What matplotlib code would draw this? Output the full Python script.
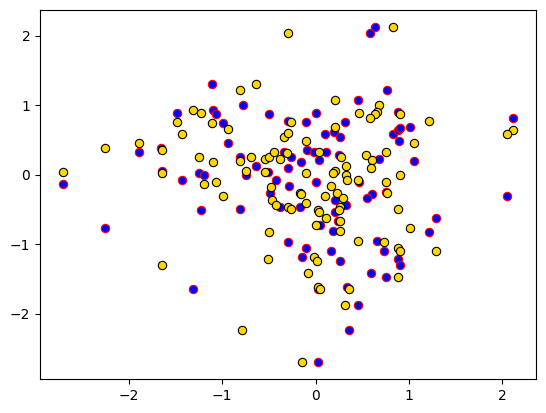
import matplotlib
matplotlib.use("Agg")
import matplotlib.pyplot as plt

# ------------------------------------------------------------------
# Point sets
# ------------------------------------------------------------------
blue_x = [-1.11, -0.78, -1.48, -1.10, -1.07, -0.50, -0.99, -0.29, 0.58, 0.64,
          0.77, 0.45, 0.88, 0.00, -0.10, 0.32, 0.10, 0.20, 0.26, 0.83,
          0.88, 0.91, 1.01, 2.12, -2.71, -1.89, -2.25, -1.66, -1.65, -0.94,
          -0.81, -0.64, -0.74, -1.25, -1.20, -1.43, -1.23, -0.81, -0.30, -0.34,
          -0.51, -0.42, -0.49, -0.28, -0.38, -0.29, -0.09, 0.11, -0.02, -0.26,
          -0.16, 0.04, 0.25, 0.68, 0.89, 0.01, 0.47, 0.75, 0.60, 0.55,
          0.21, 0.33, -0.17, 0.21, 0.24, 0.05, 0.19, 0.66, 0.73, 0.88,
          -0.10, -0.14, 0.17, 0.26, 1.06, 2.05, 1.29, 1.22, 0.91, 0.59,
          0.75, 0.03, 0.34, 0.45, 0.36, 0.03, -1.31]
blue_y = [1.30, 1.01, 0.89, 0.93, 0.88, 0.88, 0.74, 0.78, 2.04, 2.13,
          1.22, 1.07, 0.91, 0.89, 0.76, 0.76, 0.59, 0.61, 0.55, 0.59,
          0.65, 0.67, 0.68, 0.82, -0.13, 0.32, -0.77, 0.38, 0.06, 0.45,
          0.26, 0.12, 0.00, 0.02, -0.01, -0.07, -0.51, -0.50, -0.97, 0.32,
          0.04, -0.08, -0.26, -0.16, -0.46, 0.10, 0.36, 0.33, 0.33, 0.25,
          0.18, 0.21, 0.28, 0.22, 0.48, -0.10, -0.10, -0.25, -0.28, -0.34,
          -0.36, -0.44, -0.47, -0.53, -0.66, -0.73, -0.81, -0.95, -1.10, -1.21,
          -1.06, -1.19, -1.10, -1.24, 0.20, -0.30, -0.63, -0.82, -1.30, -1.42,
          -1.48, -1.64, -1.62, -1.88, -2.23, -2.70, -1.65]

gold_x = [-0.30, -0.81, -0.64, -1.48, -1.31, -1.23, -1.11, -0.94, -1.43, -0.34,
          0.83, 0.21, 0.68, 0.47, 0.66, 0.64, 0.58, 0.90, -0.26, 0.21,
          -0.29, 1.22, 2.12, 2.05, -2.71, -2.25, -1.89, -1.64, -1.65, -1.25,
          -1.10, -0.81, -0.69, -0.74, -1.20, -1.07, -0.99, -0.50, -0.51, -0.54,
          -0.50, -0.45, -0.38, -0.31, -0.54, -0.48, -0.47, -0.42, -0.10, 0.04,
          0.27, 0.54, 0.60, 0.76, 0.59, 1.05, 0.33, 0.21, 0.19, 0.33,
          0.34, -0.10, 0.17, 0.45, 0.90, 0.75, 0.77, -0.17, -0.16, 0.10,
          0.23, 0.29, 0.26, -0.10, -0.29, -0.26, 0.03, 0.04, 0.25, 0.11,
          0.26, 0.00, 0.26, 0.88, 1.01, 0.45, 0.73, 0.88, 0.91, -0.02,
          0.02, 1.29, -0.08, 0.88, 0.03, 0.05, 0.36, 0.32, -0.14, -1.64,
          -0.79]
gold_y = [2.04, 1.22, 1.30, 0.76, 0.93, 0.89, 0.74, 0.66, 0.59, 0.55,
          2.13, 1.07, 1.01, 0.89, 0.91, 0.88, 0.82, 0.88, 0.76, 0.68,
          0.60, 0.78, 0.65, 0.59, 0.04, 0.38, 0.45, 0.35, 0.03, 0.26,
          0.18, 0.20, 0.25, 0.06, -0.13, -0.10, -0.31, -0.82, -1.21, 0.22,
          0.26, 0.33, 0.22, 0.31, 0.04, -0.17, -0.37, -0.44, 0.48, 0.33,
          0.26, 0.28, 0.21, 0.32, 0.10, 0.45, 0.12, 0.05, 0.03, 0.00,
          -0.08, 0.02, -0.16, -0.07, 0.00, -0.10, -0.27, -0.26, -0.28, -0.30,
          -0.26, -0.33, -0.46, -0.41, -0.46, -0.50, -0.51, -0.54, -0.51, -0.63,
          -0.67, -0.73, -0.81, -0.50, -0.77, -0.95, -0.97, -1.06, -1.10, -1.19,
          -1.24, -1.10, -1.42, -1.48, -1.62, -1.65, -1.65, -1.88, -2.70, -1.30,
          -2.23]

# ------------------------------------------------------------------
# Plot
# ------------------------------------------------------------------
fig = plt.figure(figsize=(5.46, 4.13), dpi=100)
ax = fig.add_axes([40 / 546, 34 / 413, 496 / 546, 369 / 413])

ax.scatter(blue_x, blue_y, c='blue', edgecolors='red', linewidths=0.8)
ax.scatter(gold_x, gold_y, c='gold', edgecolors='black', linewidths=0.8)

fig.savefig('out.png', dpi=100)
